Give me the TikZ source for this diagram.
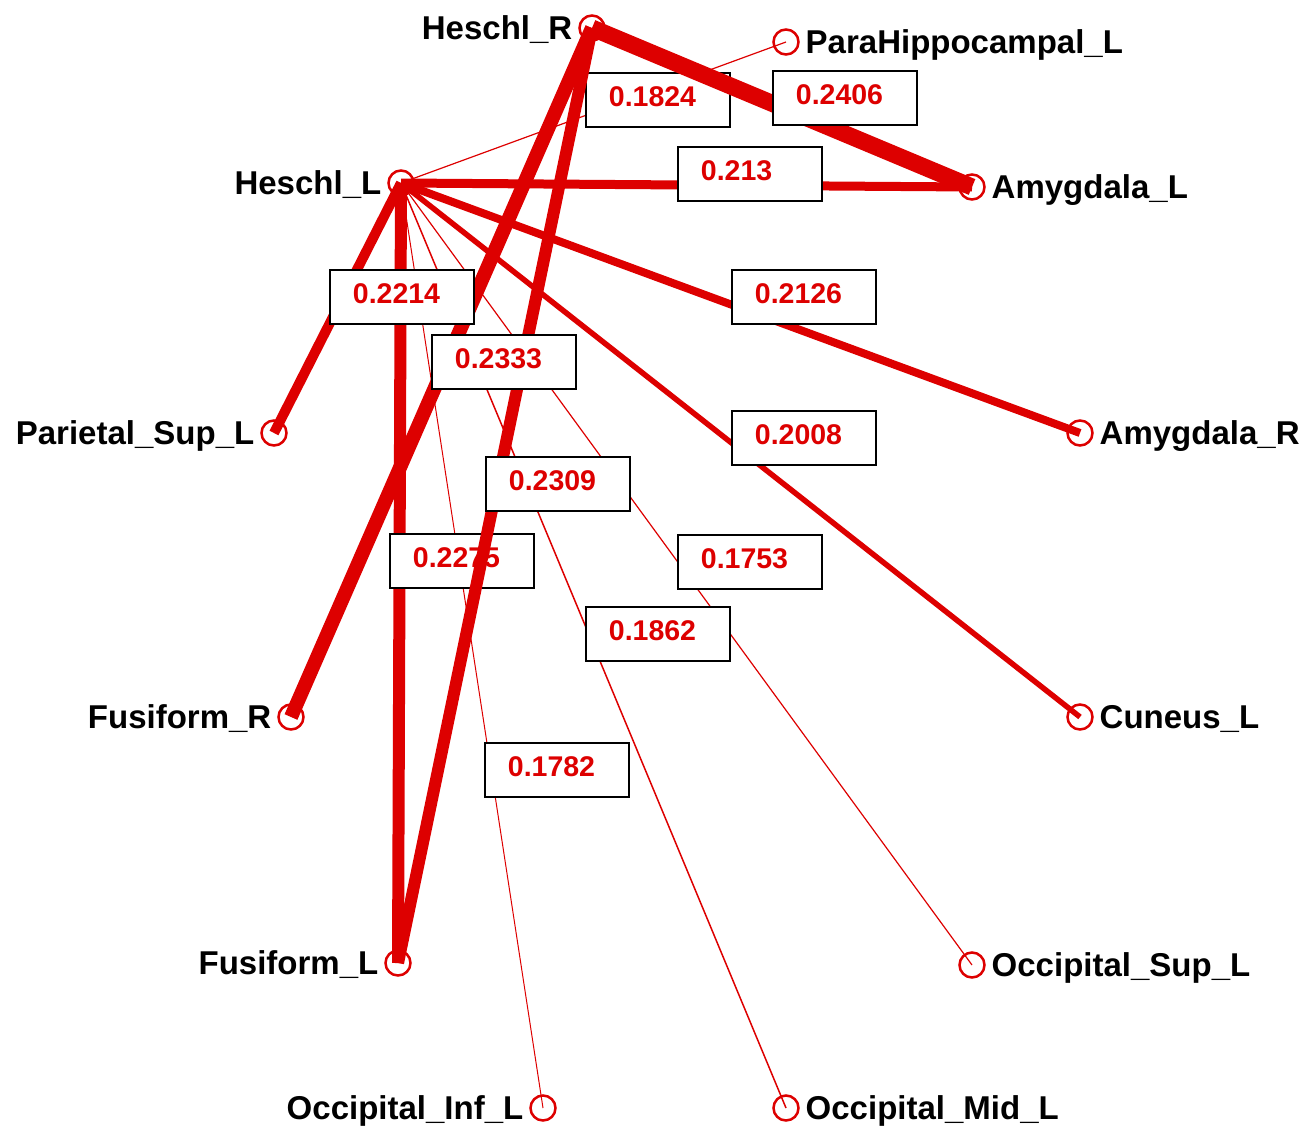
\documentclass[tikz,border=0pt]{standalone}
\usepackage{fontspec}
\setmainfont{Liberation Sans}
\definecolor{ered}{RGB}{221,0,0}
\begin{document}
\begin{tikzpicture}[x=1pt,y=-1pt,
 vtx/.style={circle,draw=ered,line width=2.5pt,minimum size=25pt,inner sep=0pt,outer sep=0pt},
 nl/.style={font=\fontsize{33}{37}\selectfont\bfseries,text=black,inner sep=0pt,text height=23.5pt,text depth=0pt},
 lblL/.style={label={[nl,label distance=7pt]left:#1}},
 lblR/.style={label={[nl,label distance=7pt]right:#1}},
 con/.style={draw=ered,line width=#1},
 wbox/.style={draw=black,fill=white,line width=1.8pt,anchor=north west,
   font=\fontsize{28.5}{32}\selectfont\bfseries,text=ered,
   minimum width=144pt,minimum height=54pt,text width=98pt,align=left,
   inner xsep=23pt,inner ysep=14pt,text height=20pt,text depth=6pt}
]
\useasboundingbox (0,0) rectangle (1314,1129);
% vertex coordinates
\coordinate (HR) at (592,28);
\coordinate (PH) at (786,42);
\coordinate (HL) at (401,183);
\coordinate (AL) at (972,187);
\coordinate (PS) at (274,433);
\coordinate (AR) at (1080,433);
\coordinate (FR) at (291,717);
\coordinate (CL) at (1080,717);
\coordinate (FL) at (398,963);
\coordinate (OS) at (972,965);
\coordinate (OI) at (543,1108);
\coordinate (OM) at (786,1108);
% edges (first group)
\draw[con=1.2pt] (HL) -- (PH);
\draw[con=9pt] (HL) -- (AL);
\draw[con=10pt] (HL) -- (PS);
\draw[con=8pt] (HL) -- (AR);
\draw[con=14pt] (HR) -- (FR);
\draw[con=5.5pt] (HL) -- (CL);
\draw[con=12pt] (HL) -- (FL);
\draw[con=1.2pt] (HL) -- (OS);
\draw[con=1.5pt] (HL) -- (OM);
\draw[con=1pt] (HL) -- (OI);
% labels (first group)
\node[wbox] (b1) at (585,72) {0.1824};
\node[wbox] (b3) at (677,146) {0.213};
\node[wbox] (b4) at (329,269) {0.2214};
\node[wbox] (b5) at (731,269) {0.2126};
\node[wbox] (b7) at (731,410) {0.2008};
\node[wbox] (b9) at (389,533) {0.2275};
\node[wbox] (b10) at (677,534) {0.1753};
\node[wbox] (b11) at (585,606) {0.1862};
\node[wbox] (b12) at (484,742) {0.1782};
% edges (second group)
\draw[con=12pt] (HR) -- (FL);
\draw[con=17pt] (HR) -- (AL);
% labels (second group)
\node[wbox] (b6) at (431,334) {0.2333};
\node[wbox] (b8) at (485,456) {0.2309};
\node[wbox] (b2) at (772,70) {0.2406};
% vertices
\node[vtx,lblL={Heschl\_R}] (vHR) at (HR) {};
\node[vtx,lblR={ParaHippocampal\_L}] (vPH) at (PH) {};
\node[vtx,lblL={Heschl\_L}] (vHL) at (HL) {};
\node[vtx,lblR={Amygdala\_L}] (vAL) at (AL) {};
\node[vtx,lblL={Parietal\_Sup\_L}] (vPS) at (PS) {};
\node[vtx,lblR={Amygdala\_R}] (vAR) at (AR) {};
\node[vtx,lblL={Fusiform\_R}] (vFR) at (FR) {};
\node[vtx,lblR={Cuneus\_L}] (vCL) at (CL) {};
\node[vtx,lblL={Fusiform\_L}] (vFL) at (FL) {};
\node[vtx,lblR={Occipital\_Sup\_L}] (vOS) at (OS) {};
\node[vtx,lblL={Occipital\_Inf\_L}] (vOI) at (OI) {};
\node[vtx,lblR={Occipital\_Mid\_L}] (vOM) at (OM) {};
\end{tikzpicture}
\end{document}
